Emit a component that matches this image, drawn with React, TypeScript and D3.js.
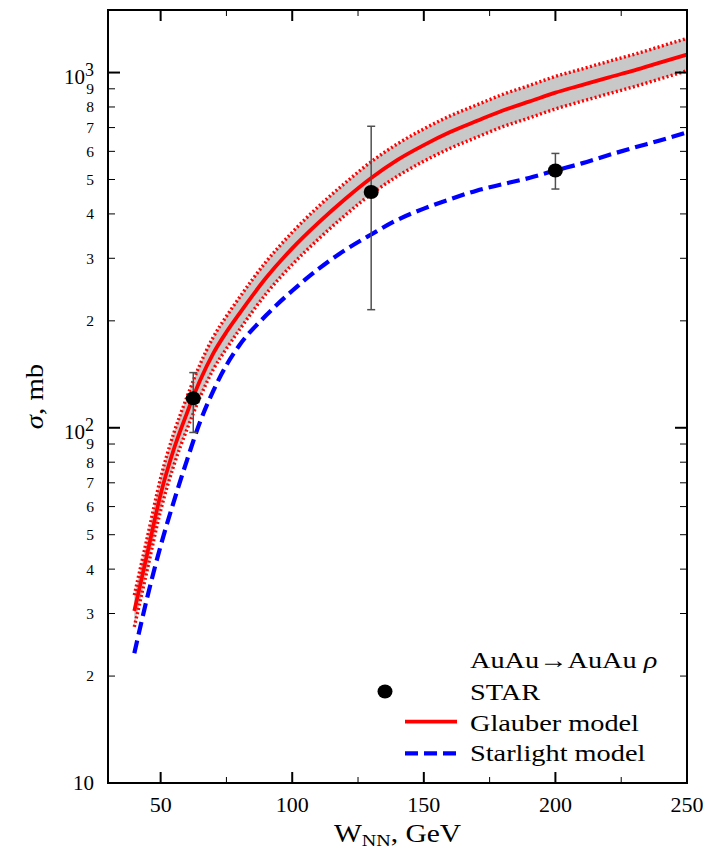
import React from 'react';
import * as d3 from 'd3';

// Collision energy grid (GeV) for the model curves
const energies = [40, 45, 50, 55, 60, 65, 70, 75, 80, 90, 100, 110, 120, 130, 140, 150, 160, 170, 180, 190, 200, 210, 220, 230, 240, 250];
// Glauber model cross section (mb)
const glauber = [30.5, 44.5, 65, 87, 110, 136, 162, 186, 210, 264, 320, 378, 440, 505, 568, 625, 680, 730, 782, 828, 878, 922, 968, 1014, 1068, 1124];
// Glauber model uncertainty band (mb)
const glauberHigh = [33.8, 49.4, 72.2, 96.6, 122, 151, 180, 206, 233, 293, 355, 420, 488, 561, 630, 694, 755, 810, 868, 919, 975, 1023, 1074, 1126, 1185, 1248];
const glauberLow = [27.5, 40.1, 58.5, 78.3, 99, 122, 146, 167, 189, 238, 288, 340, 396, 455, 511, 563, 612, 657, 704, 745, 790, 830, 871, 913, 961, 1012];
// Starlight model cross section (mb)
const starlight = [23.2, 33.5, 46.5, 62, 81, 104, 127, 150, 171, 207, 243, 280, 316, 350, 385, 414, 440, 465, 485, 505, 530, 555, 585, 615, 645, 679];

// STAR measurements
const starW = [62.4, 130, 200];
const starSigma = [121, 461, 530];
const starLow = [97, 215, 470];
const starHigh = [143, 706, 592];

// Axis ticks
const xMajor = [50, 100, 150, 200, 250];
const xMinor = [75, 125, 175, 225];
const yDecades = [10, 100, 1000];
const yDecadeExp = ['', '2', '3'];
const yMinor = [20, 30, 40, 50, 60, 70, 80, 90, 200, 300, 400, 500, 600, 700, 800, 900];
const yMinorLabels = ['2', '3', '4', '5', '6', '7', '8', '9', '2', '3', '4', '5', '6', '7', '8', '9'];

// Legend entries
const legendTitle = 'AuAu\u2192AuAu ';
const legendNames = ['STAR', 'Glauber model', 'Starlight model'];

const W = 717;
const H = 850;
const left = 108, right = 687, top = 10, bottom = 783;
const serif = '"Liberation Serif", "DejaVu Serif", serif';

export default function App() {
  const x = d3.scaleLinear().domain([30, 250]).range([left, right]);
  const y = d3.scaleLog().domain([10, 1500]).range([bottom, top]);

  const lineOf = (vals: number[]) =>
    d3.line<number>()
      .x((_, i) => x(energies[i]))
      .y((v) => y(v))
      .curve(d3.curveMonotoneX)(vals) as string;

  const band = d3.area<number>()
    .x((_, i) => x(energies[i]))
    .y0((_, i) => y(glauberLow[i]))
    .y1((_, i) => y(glauberHigh[i]))
    .curve(d3.curveMonotoneX)(energies) as string;

  const sx = 1.18;

  return (
    <svg width={W} height={H} style={{ position: 'absolute', left: 0, top: 0, background: '#fff' }} fontFamily={serif}>
      <rect x={0} y={0} width={W} height={H} fill="#fff" />

      {/* Glauber band */}
      <path d={band} fill="#c8c8c8" stroke="none" />
      <path d={lineOf(glauberHigh)} fill="none" stroke="#ff0000" strokeWidth={3.4} strokeDasharray="2,2.4" />
      <path d={lineOf(glauberLow)} fill="none" stroke="#ff0000" strokeWidth={3.4} strokeDasharray="2,2.4" />
      <path d={lineOf(glauber)} fill="none" stroke="#ff0000" strokeWidth={3.8} />

      {/* Starlight */}
      <path d={lineOf(starlight)} fill="none" stroke="#0000ff" strokeWidth={4.2} strokeDasharray="13,6" />

      {/* STAR data */}
      {starW.map((w, i) => (
        <g key={'e' + i} stroke="#505050" strokeWidth={1.5}>
          <line x1={x(w)} x2={x(w)} y1={y(starLow[i])} y2={y(starHigh[i])} />
          <line x1={x(w) - 4} x2={x(w) + 4} y1={y(starLow[i])} y2={y(starLow[i])} />
          <line x1={x(w) - 4} x2={x(w) + 4} y1={y(starHigh[i])} y2={y(starHigh[i])} />
        </g>
      ))}
      {starW.map((w, i) => (
        <ellipse key={'p' + i} cx={x(w)} cy={y(starSigma[i])} rx={7.5} ry={7} fill="#000" />
      ))}

      {/* Frame */}
      <rect x={left} y={top} width={right - left} height={bottom - top} fill="none" stroke="#000" strokeWidth={2} />

      {/* X ticks */}
      {xMajor.map((v) => (
        <g key={'xm' + v} stroke="#000" strokeWidth={2}>
          <line x1={x(v)} x2={x(v)} y1={bottom} y2={bottom - 11} />
          <line x1={x(v)} x2={x(v)} y1={top} y2={top + 11} />
        </g>
      ))}
      {xMinor.map((v) => (
        <g key={'xn' + v} stroke="#000" strokeWidth={1}>
          <line x1={x(v)} x2={x(v)} y1={bottom} y2={bottom - 6} />
          <line x1={x(v)} x2={x(v)} y1={top} y2={top + 6} />
        </g>
      ))}
      {xMajor.map((v) => (
        <text key={'xl' + v} x={x(v)} y={811.5} textAnchor="middle" fontSize={22}>{v}</text>
      ))}

      {/* Y ticks */}
      {yDecades.map((v) => (
        <g key={'ym' + v} stroke="#000" strokeWidth={2}>
          <line x1={left} x2={left + 12} y1={y(v)} y2={y(v)} />
          <line x1={right} x2={right - 12} y1={y(v)} y2={y(v)} />
        </g>
      ))}
      {yMinor.map((v) => (
        <g key={'yn' + v} stroke="#000" strokeWidth={1}>
          <line x1={left} x2={left + 7} y1={y(v)} y2={y(v)} />
          <line x1={right} x2={right - 7} y1={y(v)} y2={y(v)} />
        </g>
      ))}
      {yMinor.map((v, i) => (
        <text key={'ynl' + v} x={94} y={y(v)} dy="0.35em" textAnchor="end" fontSize={15.5}>{yMinorLabels[i]}</text>
      ))}
      {yDecades.map((v, i) =>
        yDecadeExp[i] === '' ? (
          <text key={'yl' + v} x={94} y={y(v) + 7} textAnchor="end" fontSize={21}>10</text>
        ) : (
          <text key={'yl' + v} x={94} y={y(v) + 11.5} textAnchor="end" fontSize={21}>
            10<tspan dy={-8} fontSize={18}>{yDecadeExp[i]}</tspan>
          </text>
        )
      )}

      {/* Axis titles */}
      <text transform={`translate(${(left + right) / 2},841.5) scale(${sx},1)`} textAnchor="middle" fontSize={25}>
        W<tspan dy={4} fontSize={17}>NN</tspan><tspan dy={-4}>, GeV</tspan>
      </text>
      <text transform={`translate(43,${(top + bottom) / 2}) rotate(-90) scale(1.15,1)`} textAnchor="middle" fontSize={25}>
        <tspan fontStyle="italic">σ</tspan>, mb
      </text>

      {/* Legend */}
      <text transform={`translate(470,668) scale(${sx},1)`} fontSize={24}>
        {legendTitle}<tspan fontStyle="italic">ρ</tspan>
      </text>
      <ellipse cx={385} cy={691.5} rx={7.5} ry={7} fill="#000" />
      <text transform={`translate(470,700) scale(${sx},1)`} fontSize={24}>{legendNames[0]}</text>
      <line x1={405} x2={457} y1={721.7} y2={721.7} stroke="#ff0000" strokeWidth={3.8} />
      <text transform={`translate(470,730.5) scale(${sx},1)`} fontSize={24}>{legendNames[1]}</text>
      <line x1={405} x2={457} y1={753.3} y2={753.3} stroke="#0000ff" strokeWidth={4.2} strokeDasharray="13,6" />
      <text transform={`translate(470,760.5) scale(${sx},1)`} fontSize={24}>{legendNames[2]}</text>
    </svg>
  );
}
